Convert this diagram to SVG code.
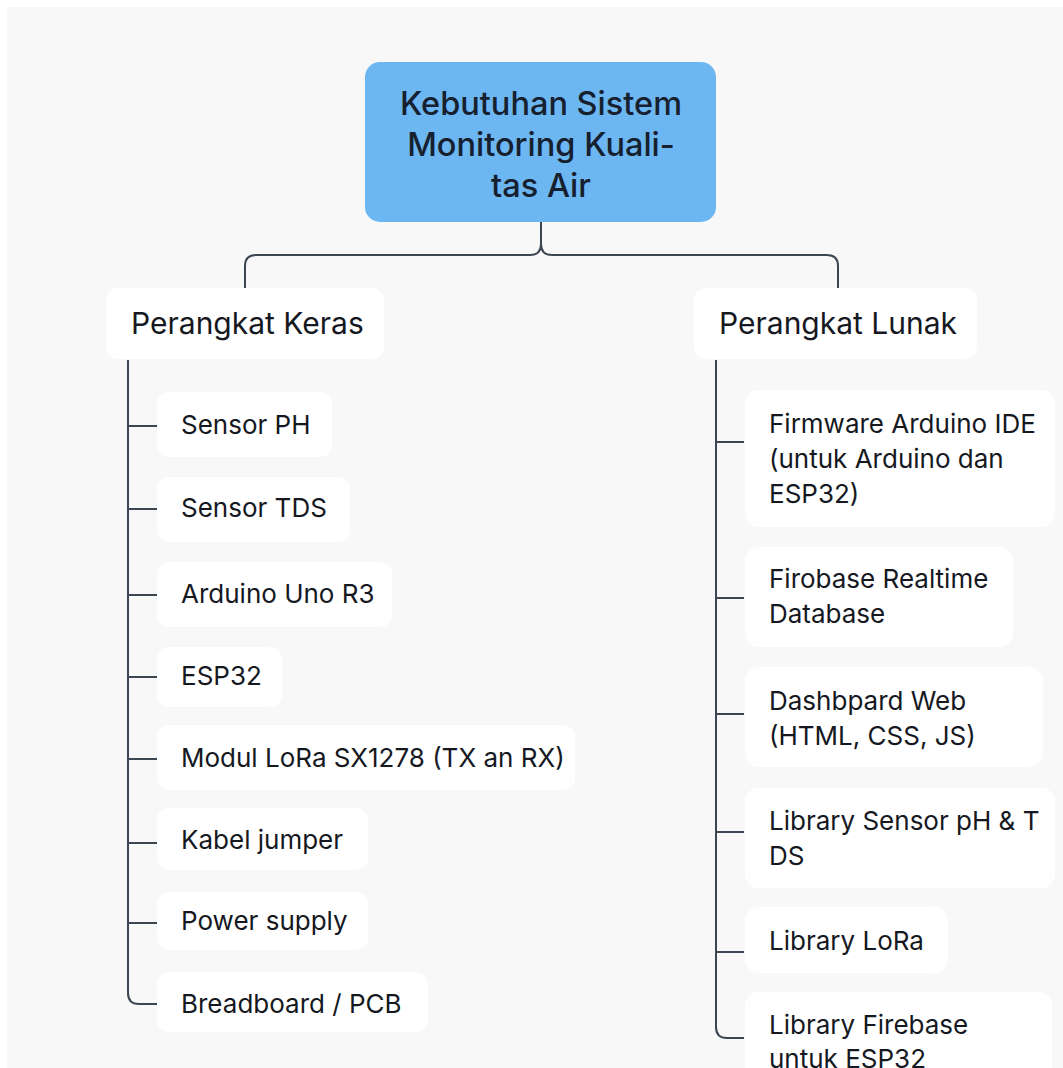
<svg xmlns="http://www.w3.org/2000/svg" width="1063" height="1068" viewBox="0 0 1063 1068">
<style>
.bg{fill:#f8f8f8}
.root{fill:#6cb6f2}
.head{fill:#ffffff}
.item{fill:#ffffff}
.t{font-family:Inter,"Liberation Sans",sans-serif;fill:#15191f}
.tt{font-size:32.5px;font-weight:500;text-anchor:middle;fill:#16202e}
.th{font-size:30px}
.ti{font-size:26px}
.c{fill:none;stroke:#3b4652;stroke-width:2}
</style>
<rect x="0" y="0" width="1063" height="1068" fill="#ffffff"/>
<rect class="bg" x="7" y="7" width="1056" height="1061"/>
<g id="connectors">
<path class="c" d="M541 222 V244 Q541 255 530 255 H256 Q245 255 245 266 V290"/>
<path class="c" d="M541 244 Q541 255 552 255 H827 Q838 255 838 266 V290"/>
<path class="c" d="M128 360 V993 Q128 1004 139 1004 H157"/>
<path class="c" d="M128 426 H157 M128 509 H157 M128 595 H157 M128 677 H157 M128 759 H157 M128 843 H157 M128 923 H157"/>
<path class="c" d="M716 360 V1027 Q716 1038 727 1038 H744"/>
<path class="c" d="M716 442 H744 M716 598 H744 M716 714 H744 M716 832 H744 M716 952 H744"/>
</g>
<g id="root">
<rect class="root" x="365" y="62" width="351" height="160" rx="15"/>
<text class="t tt" x="541" y="115">Kebutuhan Sistem</text>
<text class="t tt" x="541" y="156">Monitoring Kuali-</text>
<text class="t tt" x="541" y="197">tas Air</text>
</g>
<g id="hw">
<rect class="head" x="106" y="288" width="278" height="71" rx="12"/>
<text class="t th" x="131" y="334">Perangkat Keras</text>
</g>
<g id="sw">
<rect class="head" x="694" y="288" width="283" height="71" rx="12"/>
<text class="t th" x="719" y="334">Perangkat Lunak</text>
</g>
<g id="hw1"><rect class="item" x="157" y="392" width="175" height="65" rx="12"/><text class="t ti" x="181" y="434">Sensor PH</text></g>
<g id="hw2"><rect class="item" x="157" y="477" width="193" height="65" rx="12"/><text class="t ti" x="181" y="517">Sensor TDS</text></g>
<g id="hw3"><rect class="item" x="157" y="562" width="235" height="65" rx="12"/><text class="t ti" x="181" y="603">Arduino Uno R3</text></g>
<g id="hw4"><rect class="item" x="157" y="647" width="125" height="60" rx="12"/><text class="t ti" x="181" y="685">ESP32</text></g>
<g id="hw5"><rect class="item" x="157" y="725" width="418" height="65" rx="12"/><text class="t ti" x="181" y="767">Modul LoRa SX1278 (TX an RX)</text></g>
<g id="hw6"><rect class="item" x="157" y="808" width="211" height="62" rx="12"/><text class="t ti" x="181" y="849">Kabel jumper</text></g>
<g id="hw7"><rect class="item" x="157" y="892" width="211" height="58" rx="12"/><text class="t ti" x="181" y="930">Power supply</text></g>
<g id="hw8"><rect class="item" x="157" y="972" width="271" height="60" rx="12"/><text class="t ti" x="181" y="1013">Breadboard / PCB</text></g>
<g id="sw1"><rect class="item" x="745" y="390" width="310" height="137" rx="14"/><text class="t ti" x="769" y="433">Firmware Arduino IDE</text><text class="t ti" x="769" y="468">(untuk Arduino dan</text><text class="t ti" x="769" y="503">ESP32)</text></g>
<g id="sw2"><rect class="item" x="745" y="547" width="268" height="100" rx="14"/><text class="t ti" x="769" y="588">Firobase Realtime</text><text class="t ti" x="769" y="623">Database</text></g>
<g id="sw3"><rect class="item" x="745" y="667" width="298" height="100" rx="14"/><text class="t ti" x="769" y="710">Dashbpard Web</text><text class="t ti" x="769" y="745">(HTML, CSS, JS)</text></g>
<g id="sw4"><rect class="item" x="745" y="788" width="310" height="100" rx="14"/><text class="t ti" x="769" y="830">Library Sensor pH &amp; T</text><text class="t ti" x="769" y="865">DS</text></g>
<g id="sw5"><rect class="item" x="745" y="907" width="203" height="66" rx="14"/><text class="t ti" x="769" y="950">Library LoRa</text></g>
<g id="sw6"><rect class="item" x="745" y="992" width="307" height="100" rx="14"/><text class="t ti" x="769" y="1034">Library Firebase</text><text class="t ti" x="769" y="1068">untuk ESP32</text></g>
</svg>
